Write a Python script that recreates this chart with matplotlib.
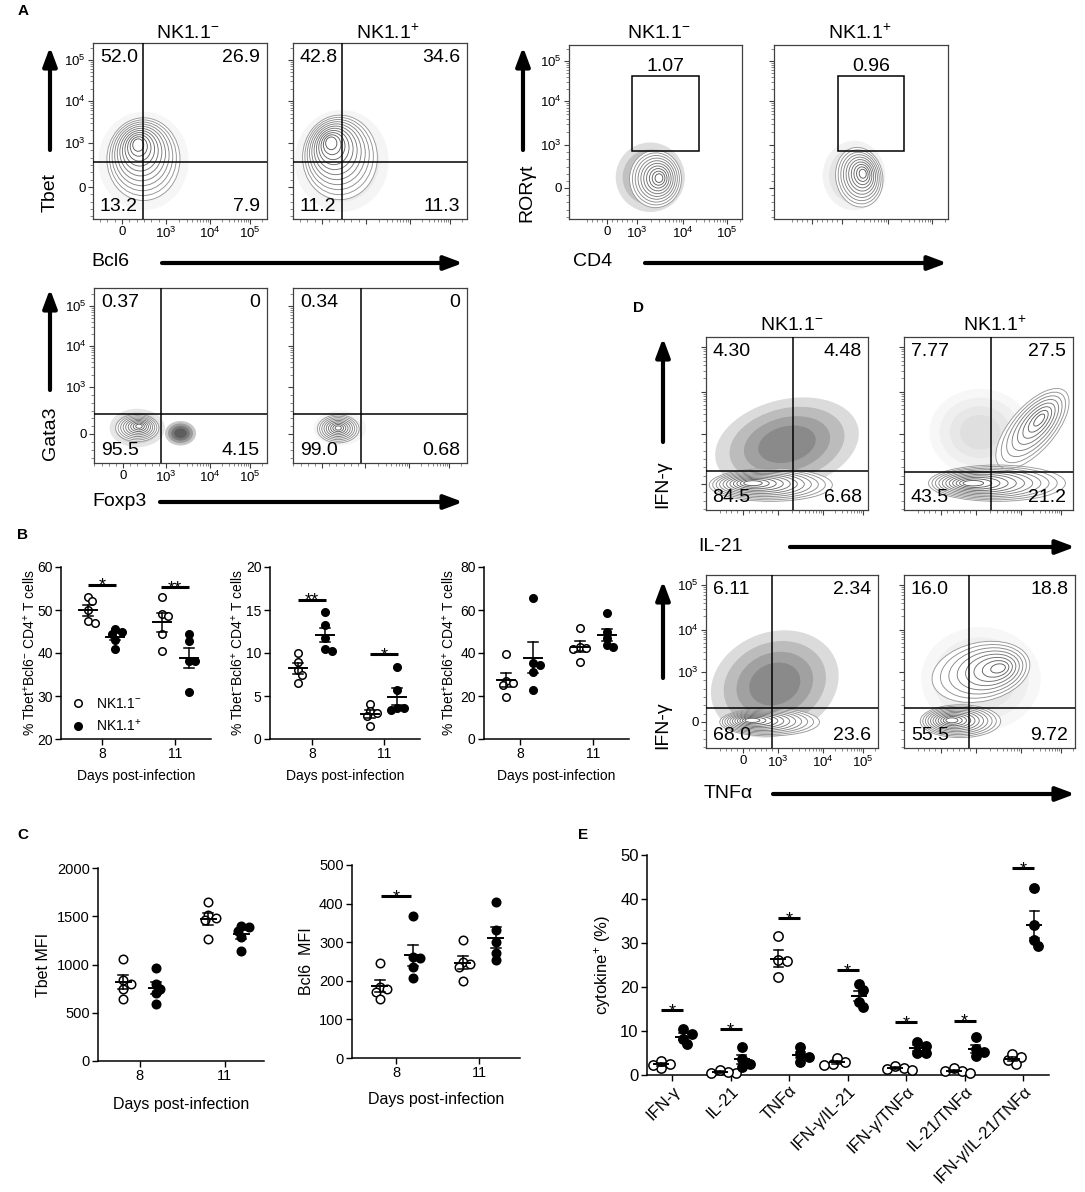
import numpy as np
import matplotlib
matplotlib.use('Agg')
import matplotlib.pyplot as plt
from matplotlib.patches import Ellipse, Rectangle, FancyArrowPatch
from matplotlib.lines import Line2D

plt.rcParams['font.family'] = ['Liberation Sans', 'DejaVu Sans']
plt.rcParams['mathtext.fontset'] = 'custom'
plt.rcParams['mathtext.rm'] = 'Liberation Sans'
plt.rcParams['mathtext.it'] = 'Liberation Sans:italic'
plt.rcParams['mathtext.bf'] = 'Liberation Sans:bold'
plt.rcParams['mathtext.default'] = 'regular'

# ---------------------------------------------------------------- data
days = ['8', '11']
groups = ['NK1.1$^{-}$', 'NK1.1$^{+}$']

# panel B (% of CD4+ T cells), [day8, day11]
b1_neg = [[53.0, 52.0, 50.0, 47.5, 47.0], [53.0, 49.0, 48.5, 44.5, 40.5]]
b1_pos = [[45.5, 45.0, 44.5, 43.0, 41.0], [44.4, 42.8, 38.2, 38.2, 30.9]]
b2_neg = [[10.0, 9.0, 8.0, 7.5, 6.5], [4.1, 3.2, 3.0, 2.7, 1.5]]
b2_pos = [[14.8, 13.2, 11.8, 10.5, 10.2], [8.4, 5.7, 3.6, 3.6, 3.4]]
b3_neg = [[39.5, 27.0, 26.0, 25.0, 19.5], [51.5, 43.0, 42.5, 42.0, 36.0]]
b3_pos = [[65.5, 35.5, 34.5, 31.0, 23.0], [58.5, 50.0, 47.0, 43.5, 43.0]]
b1_sig = [(0, 55.9, '*'), (1, 55.3, '**')]
b2_sig = [(0, 16.2, '**'), (1, 9.9, '*')]

# panel C (MFI)
c1_neg = [[1060, 840, 800, 750, 640], [1650, 1510, 1480, 1460, 1260]]
c1_pos = [[960, 800, 750, 700, 590], [1400, 1390, 1350, 1280, 1145]]
c2_neg = [[247, 185, 178, 170, 153], [305, 248, 244, 236, 200]]
c2_pos = [[368, 262, 258, 236, 206], [403, 331, 300, 272, 253]]
c2_sig = [(0, 419, '*')]

# panel E (cytokine+ %)
e_cats = ['IFN-γ', 'IL-21', 'TNFα', 'IFN-γ/IL-21', 'IFN-γ/TNFα', 'IL-21/TNFα', 'IFN-γ/IL-21/TNFα']
e_neg = [[2.4, 1.7, 2.3, 3.2], [0.5, 0.5, 0.6, 1.1], [31.6, 26.1, 25.9, 22.3],
         [3.0, 2.4, 2.3, 3.8], [1.7, 1.1, 1.3, 2.0], [0.9, 0.5, 0.8, 1.7], [4.2, 2.6, 3.3, 4.7]]
e_pos = [[10.4, 9.3, 8.2, 7.0], [6.3, 3.6, 2.6, 1.8], [6.3, 4.8, 4.2, 3.0],
         [20.6, 19.3, 16.7, 15.5], [7.6, 6.6, 5.1, 5.1], [8.6, 5.8, 5.3, 4.3], [42.6, 34.2, 30.7, 29.3]]
e_sig = [(0, 14.8, '*'), (1, 10.4, '*'), (2, 35.6, '*'), (3, 23.9, '*'),
         (4, 12.1, '*'), (5, 12.35, '*'), (6, 47.0, '*')]

# flow quadrant frequencies [TL, TR, BL, BR]
a_tb_neg = ['52.0', '26.9', '13.2', '7.9']
a_tb_pos = ['42.8', '34.6', '11.2', '11.3']
a_ror_neg = '1.07'
a_ror_pos = '0.96'
a_gf_neg = ['0.37', '0', '95.5', '4.15']
a_gf_pos = ['0.34', '0', '99.0', '0.68']
d_il_neg = ['4.30', '4.48', '84.5', '6.68']
d_il_pos = ['7.77', '27.5', '43.5', '21.2']
d_tn_neg = ['6.11', '2.34', '68.0', '23.6']
d_tn_pos = ['16.0', '18.8', '55.5', '9.72']
flow_ticklabels = ['0', '10$^{3}$', '10$^{4}$', '10$^{5}$']

# ---------------------------------------------------------------- figure
W, H = 1085, 1192
fig = plt.figure(figsize=(W / 100, H / 100), dpi=100)
fig.patch.set_facecolor('white')


def px_axes(l, t, r, b):
    return fig.add_axes([l / W, 1 - b / H, (r - l) / W, (b - t) / H])


def ftext(x, y, s, **kw):
    kw.setdefault('ha', 'center')
    kw.setdefault('va', 'center')
    fig.text(x / W, 1 - y / H, s, **kw)


def arrow(x0, y0, x1, y1):
    fig.add_artist(FancyArrowPatch((x0 / W, 1 - y0 / H), (x1 / W, 1 - y1 / H),
                                   transform=fig.transFigure,
                                   arrowstyle='-|>,head_length=0.8,head_width=0.3',
                                   mutation_scale=14, lw=3.0, color='black',
                                   shrinkA=0, shrinkB=0))


def flow_minor(p0, p3, p4, p5):
    m = []
    for a, bb in ((p3, p4), (p4, p5)):
        for k in range(2, 10):
            m.append(a + (bb - a) * np.log10(k))
    for k in range(2, 10):
        v = p5 + (p5 - p4) * np.log10(k)
        if v < 1:
            m.append(v)
    step = (p3 - p0) / 6
    for k in range(-4, 6):
        v = p0 + k * step
        if 0 < v < 1 and k != 0:
            m.append(v)
    return m


def flow(box, xt, yt, xlabels=False, ylabels=False, qx=None, qy=None, nums=None,
         gate=None, glabel=None, blobs=(), clouds=()):
    l, t, r, b = box
    w, h = r - l, b - t
    ax = px_axes(l, t, r, b)
    ax.set_xlim(0, 1)
    ax.set_ylim(0, 1)
    for s in ax.spines.values():
        s.set_linewidth(0.9)
        s.set_color('0.25')
    xf = [(x - l) / w for x in xt]
    yf = [1 - (y - t) / h for y in yt]
    ax.set_xticks(xf)
    ax.set_yticks(yf[::-1])
    ax.set_xticks(flow_minor(*xf), minor=True)
    ax.set_yticks(flow_minor(*yf[::-1]), minor=True)
    if xlabels:
        ax.set_xticklabels(flow_ticklabels)
    else:
        ax.tick_params(labelbottom=False)
    if ylabels:
        ax.set_yticklabels(flow_ticklabels)
    else:
        ax.tick_params(labelleft=False)
    ax.tick_params(which='major', length=3.5, width=0.8, labelsize=9.5, pad=1.5, color='0.25')
    ax.tick_params(which='minor', length=2, width=0.5, color='0.35')
    for (cx, cy, cw, ch, ang, alpha) in clouds:
        for s in (1.0, 0.8, 0.6, 0.4):
            ax.add_patch(Ellipse((cx, cy), cw * s, ch * s, angle=ang, fc='black',
                                 ec='none', alpha=alpha, zorder=1))
    for (cx, cy, bw, bh, ang, icx, icy, n) in blobs:
        ax.add_patch(Ellipse((cx, cy), bw, bh, angle=ang, fc='white', ec='none', zorder=2))
    for (cx, cy, bw, bh, ang, icx, icy, n) in blobs:
        for i in range(n):
            s = 1 - 0.85 * i / (n - 1)
            f = (s - 0.15) / 0.85
            c = (icx + (cx - icx) * f, icy + (cy - icy) * f)
            shade = 0.6 - 0.25 * i / (n - 1)
            ax.add_patch(Ellipse(c, bw * s, bh * s, angle=ang, fill=False,
                                 ec=str(shade), lw=0.65, zorder=3))
    if qx is not None:
        ax.axvline(qx, color='black', lw=1.1, zorder=4)
        ax.axhline(qy, color='black', lw=1.1, zorder=4)
    if nums is not None:
        kw = dict(transform=ax.transAxes, fontsize=14, zorder=5)
        ax.text(0.04, 0.965, nums[0], ha='left', va='top', **kw)
        ax.text(0.96, 0.965, nums[1], ha='right', va='top', **kw)
        ax.text(0.04, 0.025, nums[2], ha='left', va='bottom', **kw)
        ax.text(0.96, 0.025, nums[3], ha='right', va='bottom', **kw)
    if gate is not None:
        gx0, gy0, gx1, gy1 = gate
        ax.add_patch(Rectangle((gx0, gy0), gx1 - gx0, gy1 - gy0, fill=False,
                               ec='black', lw=1.1, zorder=4))
        ax.text((gx0 + gx1) / 2, gy1 + 0.005, glabel, ha='center', va='bottom',
                fontsize=14, zorder=5)
    return ax


def swarm(ypx, d):
    n = len(ypx)
    offs = np.zeros(n)
    placed = []
    for i in np.argsort(ypx)[::-1]:
        c = 0.0
        for k in range(0, 14):
            c = ((k + 1) // 2) * 0.45 * d * (1 if k % 2 else -1) if k else 0.0
            if all((c - px) ** 2 + (ypx[i] - py) ** 2 >= (0.7 * d) ** 2 for px, py in placed):
                break
        offs[i] = c
        placed.append((c, ypx[i]))
    return offs


def dots(box, neg, pos, xlim, ylim, yticks, xticklabels, ms_px, off_px, mean_px, cap_px,
         sig=(), sig_half=14, fs_tick=10.5, rot=0):
    l, t, r, b = box
    ax = px_axes(l, t, r, b)
    ax.set_xlim(*xlim)
    ax.set_ylim(*ylim)
    ppx = (r - l) / (xlim[1] - xlim[0])
    ppy = (b - t) / (ylim[1] - ylim[0])
    ms = ms_px * 72 / 100
    for gi, (vn, vp) in enumerate(zip(neg, pos)):
        for vals, sign, face in ((vn, -1, 'white'), (vp, 1, 'black')):
            vals = np.asarray(vals, float)
            center = gi + sign * off_px / ppx
            offs = swarm(vals * ppy, ms_px) / ppx
            ax.plot(center + offs, vals, 'o', ms=ms, mfc=face, mec='black', mew=1.1,
                    ls='none', zorder=3, clip_on=False)
            m = vals.mean()
            se = vals.std(ddof=1) / np.sqrt(len(vals))
            ax.plot([center - mean_px / ppx, center + mean_px / ppx], [m, m],
                    color='black', lw=1.4, zorder=4)
            ax.plot([center, center], [m - se, m + se], color='black', lw=1.1, zorder=4)
            for yy in (m - se, m + se):
                ax.plot([center - cap_px / ppx, center + cap_px / ppx], [yy, yy],
                        color='black', lw=1.1, zorder=4)
    for gi, yv, lab in sig:
        ax.plot([gi - sig_half / ppx, gi + sig_half / ppx], [yv, yv], color='black',
                lw=2.2, solid_capstyle='butt', zorder=4, clip_on=False)
        ax.annotate(lab, (gi, yv), xytext=(0, -4.5), textcoords='offset points',
                    ha='center', va='baseline', fontsize=13, zorder=5)
    ax.set_yticks(yticks)
    ax.set_xticks(range(len(xticklabels)))
    if rot:
        ax.set_xticklabels(xticklabels, rotation=rot, ha='right', va='top',
                           rotation_mode='anchor')
    else:
        ax.set_xticklabels(xticklabels)
    for s in ('top', 'right'):
        ax.spines[s].set_visible(False)
    for s in ('left', 'bottom'):
        ax.spines[s].set_linewidth(1.1)
    ax.tick_params(direction='out', length=4, width=1.0, labelsize=fs_tick, pad=2)
    return ax


# ---------------------------------------------------------------- panel A
ftext(23, 11, 'A', fontsize=11, fontweight='bold')
for x, lab in ((188, groups[0]), (388, groups[1]), (659, groups[0]), (860, groups[1])):
    ftext(x, 33, lab, fontsize=14)

flow((93, 43, 267, 219), [122, 166, 210, 250], [60, 101, 143, 187], True, True,
     qx=0.287, qy=0.324, nums=a_tb_neg,
     blobs=[(0.29, 0.34, 0.42, 0.47, 0, 0.26, 0.42, 11)],
     clouds=[(0.29, 0.33, 0.52, 0.56, 0, 0.035)])
flow((293, 43, 467, 219), [322, 366, 410, 450], [60, 101, 143, 187],
     qx=0.28, qy=0.324, nums=a_tb_pos,
     blobs=[(0.27, 0.35, 0.43, 0.48, 0, 0.22, 0.43, 11)],
     clouds=[(0.28, 0.33, 0.54, 0.58, 0, 0.04)])
flow((569, 45, 742, 219), [607, 637, 683, 727], [61, 101, 145, 188], True, True,
     gate=(0.364, 0.391, 0.751, 0.822), glabel=a_ror_neg,
     blobs=[(0.50, 0.23, 0.30, 0.33, 0, 0.52, 0.235, 10)],
     clouds=[(0.47, 0.24, 0.40, 0.40, 0, 0.13)])
flow((774, 45, 948, 219), [812, 842, 888, 932], [61, 101, 145, 188],
     gate=(0.368, 0.391, 0.747, 0.822), glabel=a_ror_pos,
     blobs=[(0.49, 0.24, 0.27, 0.345, 10, 0.51, 0.26, 10)],
     clouds=[(0.46, 0.25, 0.36, 0.40, 0, 0.05)])
flow((94, 288, 267, 463), [123, 166, 210, 250], [306, 346, 387, 434], True, True,
     qx=0.39, qy=0.28, nums=a_gf_neg,
     blobs=[(0.25, 0.20, 0.25, 0.155, 0, 0.26, 0.21, 9)],
     clouds=[(0.25, 0.20, 0.32, 0.22, 0, 0.1), (0.50, 0.17, 0.18, 0.14, 0, 0.22)])
flow((293, 288, 467, 463), [322, 365, 409, 449], [306, 346, 387, 434],
     qx=0.39, qy=0.28, nums=a_gf_pos,
     blobs=[(0.26, 0.195, 0.24, 0.16, 0, 0.26, 0.20, 9)],
     clouds=[(0.27, 0.20, 0.30, 0.20, 0, 0.04)])

ftext(50, 193, 'Tbet', rotation=90, fontsize=14)
ftext(110, 262, 'Bcl6', fontsize=14)
ftext(527, 193, 'RORγt', rotation=90, fontsize=14)
ftext(593, 262, 'CD4', fontsize=14)
ftext(50, 433, 'Gata3', rotation=90, fontsize=14)
ftext(119, 502, 'Foxp3', fontsize=14)
arrow(50, 150, 50, 47)
arrow(162, 263, 463, 263)
arrow(523, 150, 523, 47)
arrow(645, 263, 947, 263)
arrow(50, 390, 50, 289)
arrow(160, 502, 463, 502)

# ---------------------------------------------------------------- panel D
ftext(638, 308, 'D', fontsize=11, fontweight='bold')
ftext(792, 325, groups[0], fontsize=14)
ftext(995, 325, groups[1], fontsize=14)
flow((706, 337, 868, 510), [743, 778, 823, 863], [347, 392, 434, 484],
     qx=0.537, qy=0.225, nums=d_il_neg,
     blobs=[(0.40, 0.145, 0.76, 0.19, 0, 0.29, 0.155, 11)],
     clouds=[(0.50, 0.38, 0.90, 0.52, 12, 0.14)])
flow((904, 337, 1073, 510), [941, 976, 1021, 1061], [347, 392, 434, 484],
     qx=0.515, qy=0.22, nums=d_il_pos,
     blobs=[(0.55, 0.155, 0.81, 0.21, 0, 0.41, 0.155, 11),
            (0.76, 0.47, 0.58, 0.26, 48, 0.80, 0.52, 8)],
     clouds=[(0.45, 0.45, 0.60, 0.50, 0, 0.03)])
flow((706, 575, 878, 748), [743, 778, 823, 863], [585, 630, 672, 722], True, True,
     qx=0.384, qy=0.231, nums=d_tn_neg,
     blobs=[(0.37, 0.15, 0.58, 0.16, 0, 0.27, 0.16, 11)],
     clouds=[(0.40, 0.37, 0.76, 0.60, 20, 0.14)])
flow((904, 575, 1075, 748), [941, 976, 1021, 1061], [585, 630, 672, 722],
     qx=0.38, qy=0.231, nums=d_tn_pos,
     blobs=[(0.33, 0.155, 0.47, 0.19, 0, 0.28, 0.16, 11),
            (0.45, 0.44, 0.58, 0.34, 12, 0.55, 0.46, 8)],
     clouds=[(0.45, 0.40, 0.70, 0.60, 0, 0.03)])
ftext(663, 484, 'IFN-γ', rotation=90, fontsize=14)
ftext(720, 547, 'IL-21', fontsize=14)
ftext(663, 725, 'IFN-γ', rotation=90, fontsize=14)
ftext(728, 794, 'TNFα', fontsize=14)
arrow(663, 442, 663, 338)
arrow(790, 547, 1075, 547)
arrow(663, 678, 663, 581)
arrow(773, 794, 1075, 794)

# ---------------------------------------------------------------- panel B
ftext(23, 535, 'B', fontsize=11, fontweight='bold')
bkw = dict(ms_px=7.5, off_px=13.5, mean_px=9, cap_px=5, sig_half=14, fs_tick=10)
ax = dots((61, 567, 211, 739), b1_neg, b1_pos, (-0.56, 1.49), (20, 60), range(20, 61, 10),
          days, sig=b1_sig, **bkw)
ax.set_ylabel('% Tbet$^{+}$Bcl6$^{-}$ CD4$^{+}$ T cells', fontsize=10)
ax.yaxis.set_label_coords(-0.155, 0.5)
ax.set_xlabel('Days post-infection', fontsize=10)
ax.xaxis.set_label_coords(0.5, -0.175)
hnd = [Line2D([], [], marker='o', ls='none', ms=7.5 * 0.72, mfc=f, mec='black', mew=1.1)
       for f in ('white', 'black')]
ax.legend(hnd, groups, loc='lower left', bbox_to_anchor=(0.03, 0.0), frameon=False,
          handletextpad=0.8, labelspacing=0.45, borderaxespad=0, handlelength=1.0,
          prop={'size': 10})

ax = dots((270, 567, 420, 739), b2_neg, b2_pos, (-0.58, 1.5), (0, 20), range(0, 21, 5),
          days, sig=b2_sig, **bkw)
ax.set_ylabel('% Tbet$^{-}$Bcl6$^{+}$ CD4$^{+}$ T cells', fontsize=10)
ax.yaxis.set_label_coords(-0.165, 0.5)
ax.set_xlabel('Days post-infection', fontsize=10)
ax.xaxis.set_label_coords(0.5, -0.175)

ax = dots((484, 567, 629, 739), b3_neg, b3_pos, (-0.49, 1.49), (0, 80), range(0, 81, 20),
          days, **bkw)
ax.set_ylabel('% Tbet$^{+}$Bcl6$^{+}$ CD4$^{+}$ T cells', fontsize=10)
ax.yaxis.set_label_coords(-0.19, 0.5)
ax.set_xlabel('Days post-infection', fontsize=10)
ax.xaxis.set_label_coords(0.5, -0.175)

# ---------------------------------------------------------------- panel C
ftext(23, 835, 'C', fontsize=11, fontweight='bold')
ckw = dict(ms_px=8.5, off_px=16.5, mean_px=7.5, cap_px=5, sig_half=15, fs_tick=10.5)
ax = dots((98, 868, 264, 1061), c1_neg, c1_pos, (-0.49, 1.46), (0, 2000),
          range(0, 2001, 500), days, **ckw)
ax.set_ylabel('Tbet MFI', fontsize=11.5)
ax.yaxis.set_label_coords(-0.283, 0.5)
ax.set_xlabel('Days post-infection', fontsize=11.5)
ax.xaxis.set_label_coords(0.5, -0.185)

ax = dots((352, 865, 520, 1058), c2_neg, c2_pos, (-0.53, 1.49), (0, 500),
          range(0, 501, 100), days, sig=c2_sig, **ckw)
ax.set_ylabel('Bcl6  MFI', fontsize=11.5)
ax.yaxis.set_label_coords(-0.226, 0.5)
ax.set_xlabel('Days post-infection', fontsize=11.5)
ax.xaxis.set_label_coords(0.5, -0.175)

# ---------------------------------------------------------------- panel E
ftext(583, 835, 'E', fontsize=11, fontweight='bold')
ax = dots((647, 855, 1049, 1075), e_neg, e_pos, (-0.43, 6.44), (0, 50), range(0, 51, 10),
          e_cats, ms_px=9.3, off_px=11, mean_px=7, cap_px=4.5, sig=e_sig, sig_half=11,
          fs_tick=12, rot=45)
ax.set_ylabel('cytokine$^{+}$ (%)', fontsize=12)
ax.yaxis.set_label_coords(-0.085, 0.5)

fig.savefig('out.png', dpi=100, facecolor='white')
